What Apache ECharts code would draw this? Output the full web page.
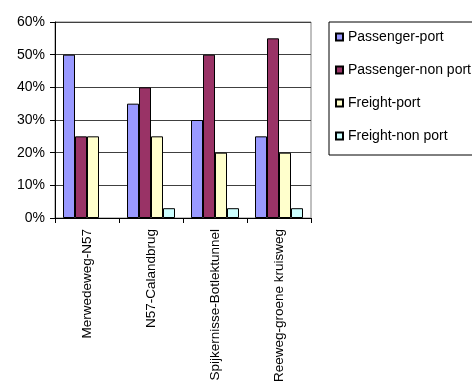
<!DOCTYPE html>
<html>
<head>
<meta charset="utf-8">
<script src="https://cdn.jsdelivr.net/npm/echarts@6/dist/echarts.min.js"></script>
<style>
    html, body { margin: 0; padding: 0; background: #fff; }
    #chart { width: 472px; height: 390px; }
</style>
</head>
<body>
<div id="chart"></div>
<script>
// 路段
var categories = ['Merwedeweg-N57', 'N57-Calandbrug', 'Spijkernisse-Botlektunnel', 'Reeweg-groene kruisweg'];
// 各类交通占比 (%)，null 表示无柱
var passengerPort = [50, 35, 30, 25];
var passengerNonPort = [25, 40, 50, 55];
var freightPort = [25, 25, 20, 20];
var freightNonPort = [null, 3, 3, 3];
var seriesNames = ['Passenger-port', 'Passenger-non port', 'Freight-port', 'Freight-non port'];
var seriesColors = ['#9999FF', '#993366', '#FFFFCC', '#CCFFFF'];

var font = '"Liberation Sans", Arial, sans-serif';

function makeBar(idx, data) {
    return {
        name: seriesNames[idx],
        type: 'bar',
        barWidth: 12,
        barGap: '0%',
        barCategoryGap: '25%',
        itemStyle: {
            color: seriesColors[idx],
            borderColor: '#000',
            borderWidth: 1
        },
        data: data
    };
}

var myChart = echarts.init(document.getElementById('chart'));
var option = {
    animation: false,
    grid: {
        left: 55,
        top: 22,
        width: 256,
        height: 196,
        show: true,
        borderColor: '#808080',
        borderWidth: 1
    },
    legend: {
        orient: 'vertical',
        left: 329,
        top: 22,
        padding: [8, 6, 12, 6],
        itemWidth: 7,
        itemHeight: 7,
        itemGap: 19,
        icon: 'rect',
        borderColor: '#000',
        borderWidth: 1,
        textStyle: { fontFamily: font, fontSize: 14, color: '#000' },
        data: seriesNames
    },
    xAxis: {
        type: 'category',
        data: categories,
        axisLine: { lineStyle: { color: '#000' } },
        axisTick: { show: true, length: 5, lineStyle: { color: '#000' } },
        axisLabel: {
            rotate: 90,
            interval: 0,
            margin: 11,
            fontFamily: font,
            fontSize: 13.5,
            color: '#000'
        }
    },
    yAxis: {
        type: 'value',
        min: 0,
        max: 60,
        interval: 10,
        axisLine: { show: true, lineStyle: { color: '#000' } },
        axisTick: { show: true, length: 5, lineStyle: { color: '#000' } },
        axisLabel: {
            formatter: '{value}%',
            margin: 10,
            fontFamily: font,
            fontSize: 14,
            color: '#000'
        },
        splitLine: { lineStyle: { color: '#404040' } }
    },
    series: [
        makeBar(0, passengerPort),
        makeBar(1, passengerNonPort),
        makeBar(2, freightPort),
        makeBar(3, freightNonPort)
    ]
};
myChart.setOption(option);
</script>
</body>
</html>
